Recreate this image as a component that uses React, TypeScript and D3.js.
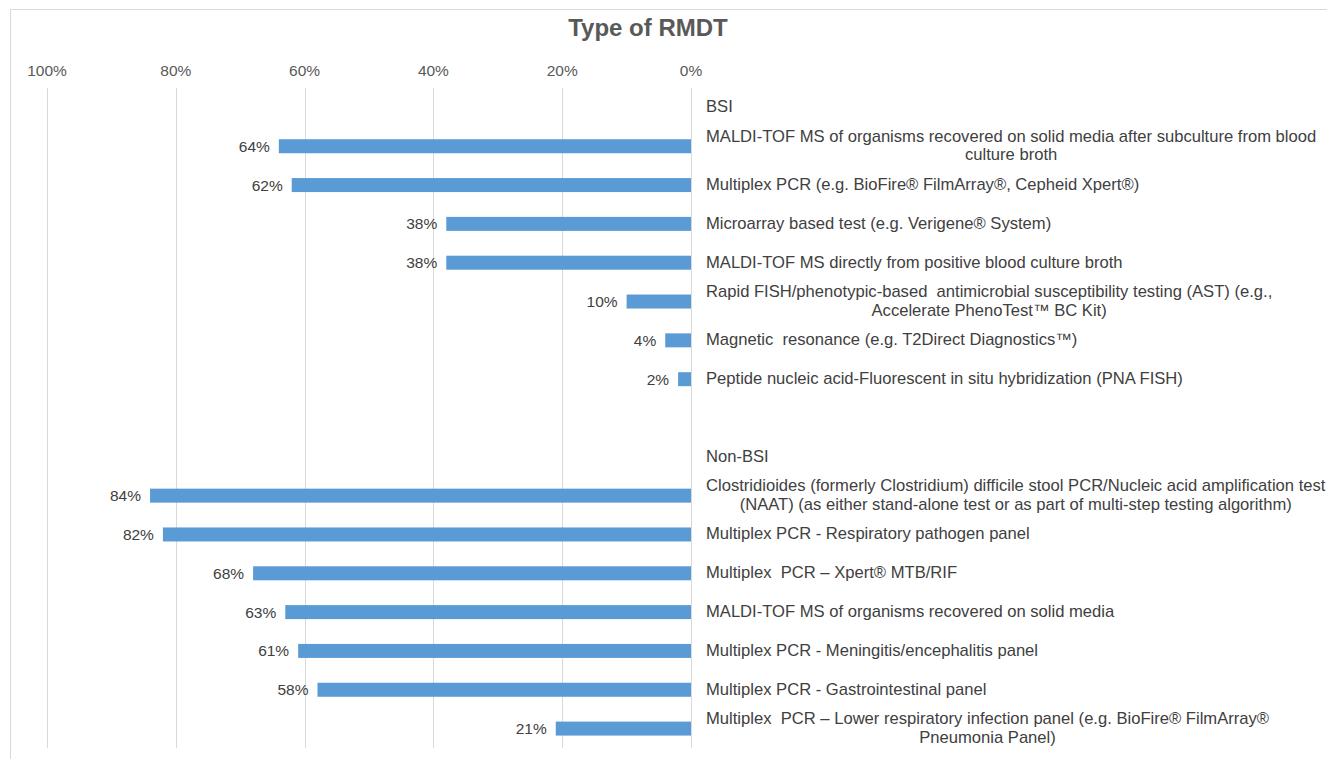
import React, { useEffect, useRef } from "react";
import * as d3 from "d3";

const title = "Type of RMDT";
const groupHeaders = ["BSI", "Non-BSI"];
const bsiLabels = [
  "MALDI-TOF MS of organisms recovered on solid media after subculture from blood\nculture broth",
  "Multiplex PCR (e.g. BioFire® FilmArray®, Cepheid Xpert®)",
  "Microarray based test (e.g. Verigene® System)",
  "MALDI-TOF MS directly from positive blood culture broth",
  "Rapid FISH/phenotypic-based  antimicrobial susceptibility testing (AST) (e.g.,\nAccelerate PhenoTest™ BC Kit)",
  "Magnetic  resonance (e.g. T2Direct Diagnostics™)",
  "Peptide nucleic acid-Fluorescent in situ hybridization (PNA FISH)",
];
const bsiValues = [64, 62, 38, 38, 10, 4, 2];
const nonBsiLabels = [
  "Clostridioides (formerly Clostridium) difficile stool PCR/Nucleic acid amplification test\n(NAAT) (as either stand-alone test or as part of multi-step testing algorithm)",
  "Multiplex PCR - Respiratory pathogen panel",
  "Multiplex  PCR – Xpert® MTB/RIF",
  "MALDI-TOF MS of organisms recovered on solid media",
  "Multiplex PCR - Meningitis/encephalitis panel",
  "Multiplex PCR - Gastrointestinal panel",
  "Multiplex  PCR – Lower respiratory infection panel (e.g. BioFire® FilmArray®\nPneumonia Panel)",
];
const nonBsiValues = [84, 82, 68, 63, 61, 58, 21];
const tickValues = [100, 80, 60, 40, 20, 0];

type Row = { key: string; label: string; value: number | null; header: boolean };

export default function App() {
  const ref = useRef<SVGSVGElement>(null);

  useEffect(() => {
    const rows: Row[] = [];
    rows.push({ key: "h0", label: groupHeaders[0], value: null, header: true });
    bsiLabels.forEach((l, i) => rows.push({ key: "b" + i, label: l, value: bsiValues[i], header: false }));
    rows.push({ key: "blank", label: "", value: null, header: true });
    rows.push({ key: "h1", label: groupHeaders[1], value: null, header: true });
    nonBsiLabels.forEach((l, i) => rows.push({ key: "n" + i, label: l, value: nonBsiValues[i], header: false }));

    const W = 1327, H = 759;
    const svg = d3.select(ref.current!);
    svg.selectAll("*").remove();

    const x = d3.scaleLinear().domain([0, 100]).range([691, 47]);
    const y = d3.scaleBand<string>().domain(rows.map((r) => r.key)).range([88, 748]).paddingInner(0.64).paddingOuter(0.32);
    const font = "'Liberation Sans', Arial, sans-serif";
    const textColor = "#404040";

    svg.append("rect").attr("width", W).attr("height", H).attr("fill", "#fff");
    svg.append("line").attr("x1", 10.5).attr("x2", W).attr("y1", 9.5).attr("y2", 9.5).attr("stroke", "#d9d9d9");
    svg.append("line").attr("x1", 10.5).attr("x2", 10.5).attr("y1", 9.5).attr("y2", H).attr("stroke", "#d9d9d9");

    svg.append("text").attr("x", 648).attr("y", 36).attr("text-anchor", "middle")
      .attr("font-family", font).attr("font-size", 24).attr("font-weight", "bold").attr("fill", "#595959").text(title);

    svg.append("g").selectAll("line").data(tickValues).join("line")
      .attr("x1", (d) => Math.round(x(d)) + 0.5).attr("x2", (d) => Math.round(x(d)) + 0.5)
      .attr("y1", 88).attr("y2", 748).attr("stroke", "#d9d9d9").attr("stroke-width", 1);

    svg.append("g").selectAll("text").data(tickValues).join("text")
      .attr("x", (d) => x(d)).attr("y", 76).attr("text-anchor", "middle")
      .attr("font-family", font).attr("font-size", 15.5).attr("fill", "#595959").text((d) => d + "%");

    const bh = 14;
    const cy = (k: string) => y(k)! + y.bandwidth() / 2;
    const bars = rows.filter((r) => r.value !== null);
    svg.append("g").selectAll("rect").data(bars).join("rect")
      .attr("x", (d) => x(d.value!)).attr("width", (d) => x(0) - x(d.value!))
      .attr("y", (d) => cy(d.key) - bh / 2).attr("height", bh).attr("fill", "#5b9bd5");

    svg.append("g").selectAll("text").data(bars).join("text")
      .attr("x", (d) => x(d.value!) - 9).attr("y", (d) => cy(d.key) + 5.5).attr("text-anchor", "end")
      .attr("font-family", font).attr("font-size", 15.5).attr("fill", textColor).text((d) => d.value + "%");

    const labelX = 706;
    const lh = 18.5;
    rows.forEach((r) => {
      if (!r.label) return;
      const lines = r.label.split("\n");
      const t = svg.append("text").attr("font-family", font).attr("font-size", 16.6).attr("fill", textColor)
        .attr("xml:space", "preserve");
      const c = cy(r.key);
      const spans = lines.map((ln, i) =>
        t.append("tspan").attr("x", labelX).attr("y", c + 5 + (i - (lines.length - 1) / 2) * lh).text(ln)
      );
      const widths = spans.map((s) => (s.node() as SVGTSpanElement).getComputedTextLength());
      const maxW = Math.max(...widths);
      spans.forEach((s, i) => s.attr("x", labelX + (maxW - widths[i]) / 2));
    });
  }, []);

  return (
    <div style={{ position: "absolute", left: 0, top: 0 }}>
      <svg ref={ref} width={1327} height={759} style={{ display: "block", overflow: "hidden" }} />
    </div>
  );
}
